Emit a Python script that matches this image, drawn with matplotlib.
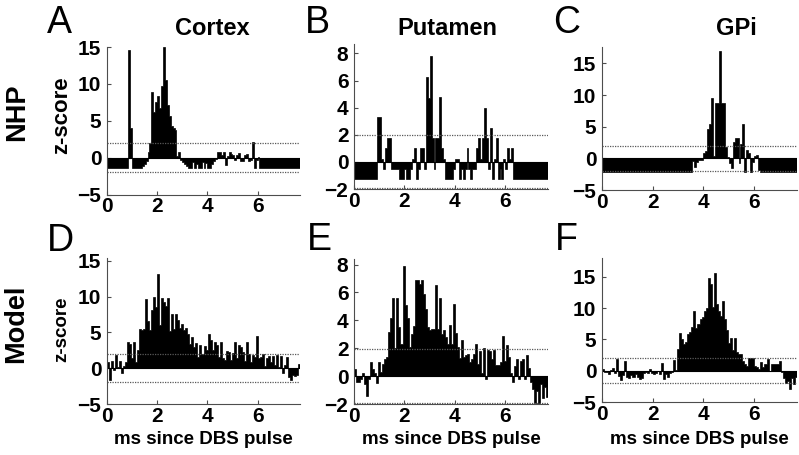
import numpy as np
import matplotlib.pyplot as plt

plt.rcParams['font.family'] = ['Liberation Sans', 'DejaVu Sans']
plt.rcParams['font.weight'] = 'bold'

period = 7.69  # ms between DBS pulses (130 Hz)

# z-scores per bin
cortex_nhp = [-1.4, -1.4, -1.4, -1.4, -1.4, -1.4, -1.4, -1.4, -1.4, -1.4, -1.4,
              14.6, 4.0, -1.4, -1.4, -1.4, -1.4, -1.4, -1.2, -0.8, -0.4, 0.8, 2.0,
              8.9, 6.2, 7.5, 8.3, 6.7, 9.7, 15.0, 10.5, 7.1, 5.6, 4.3, 4.0, 3.8,
              0.2, 0.8, -0.3, -0.6, -0.8, -1.1, -1.4, -1.4, -0.6, -1.4, -0.8, -1.4, -1.4,
              -0.6, -1.4, -0.7, -1.4, -1.4, -0.8, -0.4, -0.2,
              0.8, 0.8, 0.3, 0.8, -1.0, 0.2, 0.8, 0.5, 0.3, -0.3, 0.4, 0.6, -0.4, -0.4,
              0.3, 0.5, -0.4, -0.3, 2.1, -1.4, -0.3, 0.1, -1.4,
              -1.4, -1.4, -1.4, -1.4, -1.4, -1.4, -1.4, -1.4, -1.4, -1.4,
              -1.4, -1.4, -1.4, -1.4, -1.4, -1.4, -1.4, -1.4, -1.4, -1.4]
putamen_nhp = [-1.26, -1.26, -1.26, -1.26, -1.26, -1.26, -1.26, -1.26, -1.26, -1.26, -1.26, -1.26,
               3.3, 3.3, 0.2, -0.5, 1.0, 1.8, 1.8, -0.5, -0.5, -0.5, -0.5,
               -1.26, -1.26, -1.26, -0.5, -1.26, -1.26, -0.5, 0.2, 1.0, -1.26, -0.5, 1.0, 1.0, -0.5,
               6.3, 4.7, 7.8, 1.8, -0.5, 1.8, 1.8, 4.8, 1.0, 0.2, -1.26,
               -1.26, -1.26, -1.26, -0.5, 0.2, 0.2, -1.26, -0.5, -1.26, -0.5, 1.0, -0.5, -1.26,
               -0.5, -0.5, 1.0, 1.8, 0.2, 1.8, 4.0, 1.8, -0.5, 2.5, -1.26, 0.2, 1.8, -1.26,
               -0.5, -1.26, 0.2, -0.5, 1.0, 0.2, 1.0, -1.26, -1.26,
               -1.26, -1.26, -1.26, -1.26, -1.26, -1.26, -1.26, -1.26,
               -1.26, -1.26, -1.26, -1.26, -1.26, -1.26, -1.26, -1.26]
gpi_nhp = [-2.2, -2.2, -2.2, -2.2, -2.2, -2.2, -2.2, -2.2, -2.2, -2.2, -2.2, -2.2, -2.2, -2.2, -2.2, -2.2,
           -2.2, -2.2, -2.2, -2.2, -2.2, -2.2, -2.2, -2.2, -2.2, -2.2, -2.2, -2.2, -2.2, -2.2, -2.2, -2.2,
           -2.2, -2.2, -2.2, -2.2, -2.2, -2.2, -2.2, -2.2, -2.2, -2.2, -2.2, -2.2, -2.2, -2.2,
           -0.4, -1.4, -0.5, -0.3, -0.3, -0.3,
           0.9, 1.2, 4.6, 5.5, 9.5, 0.3, 8.7, 8.7, 17.0, 8.7, 8.7, 1.8, 0.2, -0.8, -1.6,
           2.6, 3.2, 3.2, -0.8, 2.3, 5.4, -2.1, 1.3, 0.8, -2.1, -0.5, 0.4, 0.5, -1.8,
           -2.2, -2.2, -2.2, -2.2, -2.2, -2.2, -2.2, -2.2, -2.2, -2.2,
           -2.2, -2.2, -2.2, -2.2, -2.2, -2.2, -2.2, -2.2, -2.2]
cortex_model = [0.8, -1.7, 1.0, -0.3, 1.8, 0.2, 1.0, -0.6, 0.3, 0.8,
                3.6, 3.4, 1.4, 3.7, 0.8, 2.6, 5.5, 5.4, 5.5, 9.7,
                6.6, 5.4, 8.2, 10.0, 8.5, 13.1, 6.0, 9.8, 9.3, 8.7,
                9.8, 5.2, 7.6, 5.5, 7.6, 6.8, 5.6, 6.2, 5.3, 5.6,
                4.8, 3.4, 4.4, 3.0, 3.5, 1.5, 3.2, 2.0, 3.1, 2.5,
                4.8, 3.9, 2.5, 3.6, 3.3, 1.5, 3.6, 1.4, 1.1, 2.4,
                2.2, 1.2, 2.1, 3.6, 1.4, 3.3, 3.0, 2.3, 1.0, 3.7,
                2.0, 0.8, 1.8, 1.6, 4.5, 1.4, 1.5, 2.0, 0.3, 1.4,
                1.7, 0.8, 1.7, 0.4, 1.8, 0.2, 1.7, -0.6, 0.4, 1.6,
                -1.2, -1.7, -0.9, -1.1, -1.0, 0.6]
putamen_model = [0.5, -0.4, -0.4, -0.2, 0.2, -0.6, -1.4, -0.2, 1.0, 0.5,
                 0.2, -0.5, 1.0, 0.3, 0.9, 1.2, 1.4, 3.2, 4.2, 5.6,
                 2.0, 5.6, 3.5, 2.3, 7.9, 5.1, 4.2, 2.1, 3.0, 3.6,
                 6.9, 6.9, 6.6, 6.9, 5.9, 4.8, 3.5, 3.3, 3.4, 3.4,
                 6.5, 3.4, 5.6, 3.0, 3.3, 2.8, 2.3, 3.7, 2.3, 5.2,
                 3.1, 2.1, 1.3, 2.6, 1.4, 1.5, 1.6, 1.0, 1.2, 1.6,
                 2.3, 0.9, 1.8, 0.2, 2.0, -0.2, 1.9, 1.8, 1.2, 1.9,
                 0.8, 0.8, 1.0, 2.9, 1.1, 2.2, 1.4, 0.2, -0.4, 0.7,
                 1.2, -0.2, 1.1, 1.2, -0.2, 1.5, 0.6, -0.4, -0.9, -1.9,
                 -1.1, -2.0, -0.6, -1.6, -0.8, -1.5]
gpi_model = [0.3, -0.2, -0.2, -0.6, 0.1, 0.4, -0.3, 1.8, -0.8, -1.5,
             -0.7, 1.5, -1.0, -1.1, -0.7, -1.0, -0.6, -1.0, -1.4, -1.2,
             -0.4, -0.2, -0.3, 0.2, -0.3, -0.6, -0.4, 0.0, -0.5, 1.3,
             -1.4, -0.6, -1.0, -0.4, -0.2, 1.7, 0.1, 3.4, 6.0, 5.0,
             4.2, 4.6, 5.9, 6.2, 7.0, 9.5, 6.8, 7.4, 8.2, 8.5,
             9.5, 10.0, 14.8, 13.8, 10.2, 15.6, 10.6, 9.5, 8.7, 11.2,
             8.2, 6.5, 4.5, 5.2, 3.3, 5.2, 3.0, 2.6, 2.6, 1.5,
             1.0, 0.8, 2.0, 2.1, 2.1, 0.8, 0.6, 0.2, 1.4, 0.6,
             1.1, 1.8, 0.0, 1.0, 1.1, 1.1, 1.0, 1.5, -0.2, -1.1,
             -2.0, -1.6, -2.9, -1.2, -2.2, -1.0]

threshold = 1.96
xticks = [0, 2, 4, 6]

W, H = 799, 455
fig = plt.figure(figsize=(W / 100, H / 100), dpi=100)


def px_axes(l, t, r, b):
    return fig.add_axes([l / W, 1 - b / H, (r - l) / W, (b - t) / H])


# (data, pixel box l,t,r,b, ylim, yticks)
panels = [
    (cortex_nhp, (107, 47, 300, 194.5), (-5, 15), [-5, 0, 5, 10, 15]),
    (putamen_nhp, (354, 44, 548, 189), (-2, 8.7), [-2, 0, 2, 4, 6, 8]),
    (gpi_nhp, (602, 47, 797, 190), (-5, 17.6), [-5, 0, 5, 10, 15]),
    (cortex_model, (107, 258, 300, 404), (-5, 15.4), [-5, 0, 5, 10, 15]),
    (putamen_model, (354, 259, 548, 404), (-2, 8.4), [-2, 0, 2, 4, 6, 8]),
    (gpi_model, (602, 258, 797, 402), (-5, 18), [-5, 0, 5, 10, 15]),
]

axes = []
for vals, box, ylim, yt in panels:
    ax = px_axes(*box)
    edges = np.linspace(0, period, len(vals) + 1)
    ax.stairs(vals, edges, baseline=0, fill=True, facecolor='black',
              edgecolor='black', lw=0.5)
    ax.axhline(0, color='black', lw=0.8)
    for th in (threshold, -threshold):
        ax.axhline(th, color='0.35', lw=0.9, ls=(0, (1, 1)))
    ax.set_xlim(0, period)
    ax.set_ylim(*ylim)
    ax.set_xticks(xticks)
    ax.set_yticks(yt)
    for s in ('top', 'right'):
        ax.spines[s].set_visible(False)
    for s in ('left', 'bottom'):
        ax.spines[s].set_color('0.3')
        ax.spines[s].set_linewidth(0.8)
    ax.tick_params(direction='in', length=3, width=0.8, color='0.3', labelsize=15)
    ax.tick_params(axis='x', pad=2)
    ax.tick_params(axis='y', pad=4)
    axes.append(ax)


def ftext(x, y, s, **kw):
    fig.text(x / W, 1 - y / H, s, **kw)


# panel letters
for letter, x, y in [('A', 47, 33), ('B', 305, 33), ('C', 553, 33),
                     ('D', 47, 251), ('E', 307, 250), ('F', 555, 250)]:
    ftext(x, y, letter, fontsize=27, fontweight='normal', ha='left', va='baseline')

# column titles
for title, x in [('Cortex', 212), ('Putamen', 447), ('GPi', 736)]:
    ftext(x, 35, title, fontsize=17, ha='center', va='baseline')

# row labels
ftext(17, 112, 'NHP', fontsize=19.5, rotation=90, ha='center', va='center')
ftext(16, 324, 'Model', fontsize=19.5, rotation=90, ha='center', va='center')

# y labels
ftext(62, 115, 'z-score', fontsize=16, rotation=90, ha='center', va='center')
ftext(62, 329, 'z-score', fontsize=13.5, rotation=90, ha='center', va='center')

# x labels
for ax in axes[3:]:
    pos = ax.get_position()
    ftext((pos.x0 + pos.width / 2) * W, 440, 'ms since DBS pulse',
          fontsize=13.5, ha='center', va='center')

fig.savefig('out.png', dpi=100)
